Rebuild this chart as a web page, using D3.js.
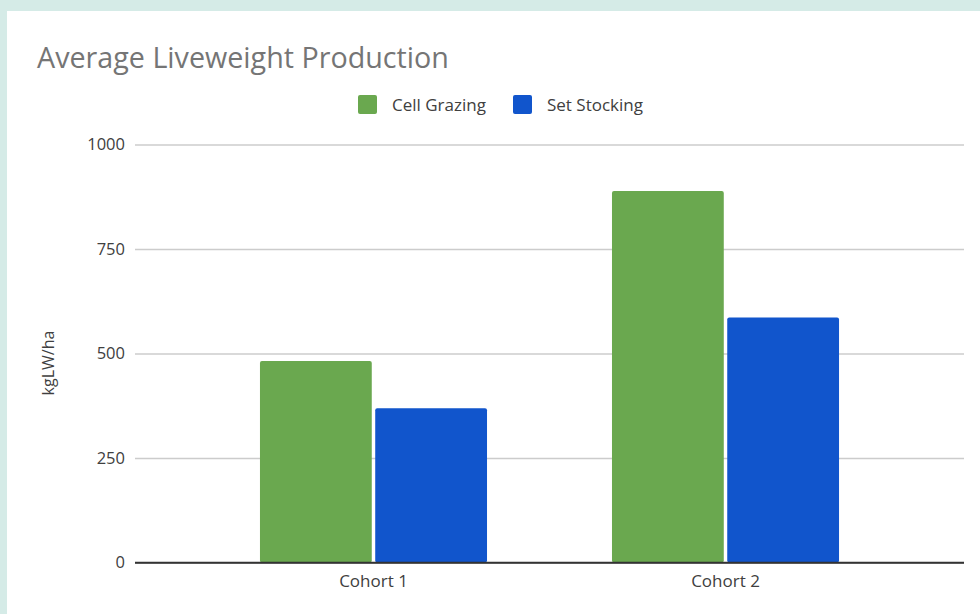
<!DOCTYPE html>
<html>
<head>
<meta charset="utf-8">
<script src="https://cdn.jsdelivr.net/npm/d3@7"></script>
<style>
  body { margin: 0; background: #d5ebe7; }
  svg { display: block; }
</style>
</head>
<body>
<div class="chart"></div>
<script>
var cohorts = ["Cohort 1", "Cohort 2"];
var series = ["Cell Grazing", "Set Stocking"];
var cellGrazing = [482, 889];
var setStocking = [369, 586];
var colors = ["#6aa84f", "#1155cc"];
var yTicks = [0, 250, 500, 750, 1000];

var rows = cohorts.map(function (c, i) {
    return { cohort: c, values: [cellGrazing[i], setStocking[i]] };
});

var svg = d3.select(".chart")
    .append("svg")
    .attr("width", 980)
    .attr("height", 614)

// white card
svg.append("rect")
    .attr("x", 7)
    .attr("y", 11)
    .attr("width", 980)
    .attr("height", 620)
    .attr("fill", "#ffffff")

var x0 = d3.scaleBand().domain(cohorts).range([135, 964]).paddingInner(0.355).paddingOuter(0.355);
var x1 = d3.scaleBand().domain(series).range([0, x0.bandwidth()]).paddingInner(0.03);
var y = d3.scaleLinear().domain([0, 1000]).range([562.5, 144.5]);

// gridlines + tick labels
var yAxis = svg.append("g")
    .attr("transform", "translate(135,0)")
    .call(d3.axisLeft(y).tickValues(yTicks).tickSize(-829).tickPadding(10).tickFormat(d3.format("d")))
yAxis.select(".domain").remove()
yAxis.selectAll(".tick line")
    .attr("stroke", function (d) { return d === 0 ? "#333" : "#cccccc"; })
    .attr("stroke-width", function (d) { return d === 0 ? 1.5 : 1.3; })
yAxis.selectAll(".tick text")
    .style("font-family", "'Open Sans', sans-serif")
    .style("font-size", "16.5px")
    .attr("fill", "#404040")

// bars
var groups = svg.selectAll(".grp")
    .data(rows)
    .enter()
    .append("g")
    .attr("class", "grp")
    .attr("transform", function (d) { return "translate(" + x0(d.cohort) + ",0)"; })

groups.selectAll("rect")
    .data(function (d) { return d.values.map(function (v, i) { return { key: series[i], value: v, i: i }; }); })
    .enter()
    .append("rect")
    .attr("x", function (d) { return x1(d.key); })
    .attr("y", function (d) { return y(d.value); })
    .attr("width", x1.bandwidth())
    .attr("height", function (d) { return y(0) - y(d.value); })
    .attr("rx", 2)
    .style("fill", function (d) { return colors[d.i]; })

// redraw zero line over bars
svg.append("line")
    .attr("x1", 135).attr("x2", 964)
    .attr("y1", y(0)).attr("y2", y(0))
    .attr("stroke", "#333")
    .attr("stroke-width", 1.5)

// x axis labels
var xAxis = svg.append("g")
    .attr("transform", "translate(0," + y(0) + ")")
    .call(d3.axisBottom(x0).tickSize(0).tickPadding(12))
xAxis.select(".domain").remove()
xAxis.selectAll(".tick text")
    .style("font-family", "'Open Sans', sans-serif")
    .style("font-size", "17px")
    .attr("fill", "#404040")

// title
svg.append("text")
    .attr("x", 37)
    .attr("y", 68)
    .text("Average Liveweight Production")
    .style("font-size", "28.7px")
    .attr("font-family", "'Open Sans', sans-serif")
    .attr("fill", "#757575")

// y label
svg.append("text")
    .attr("transform", "translate(54,363) rotate(-90)")
    .attr("text-anchor", "middle")
    .text("kgLW/ha")
    .style("font-size", "16px")
    .attr("font-family", "'Open Sans', sans-serif")
    .attr("fill", "#404040")

// legend
var legendX = [358, 513];
var legend = svg.selectAll(".leg")
    .data(series)
    .enter()
    .append("g")
    .attr("class", "leg")
    .attr("transform", function (d, i) { return "translate(" + legendX[i] + ",95)"; })
legend.append("rect")
    .attr("width", 19)
    .attr("height", 19)
    .attr("rx", 2)
    .style("fill", function (d, i) { return colors[i]; })
legend.append("text")
    .attr("x", 34)
    .attr("y", 15.5)
    .text(function (d) { return d; })
    .style("font-size", "17px")
    .attr("font-family", "'Open Sans', sans-serif")
    .attr("fill", "#404040")
</script>
</body>
</html>
